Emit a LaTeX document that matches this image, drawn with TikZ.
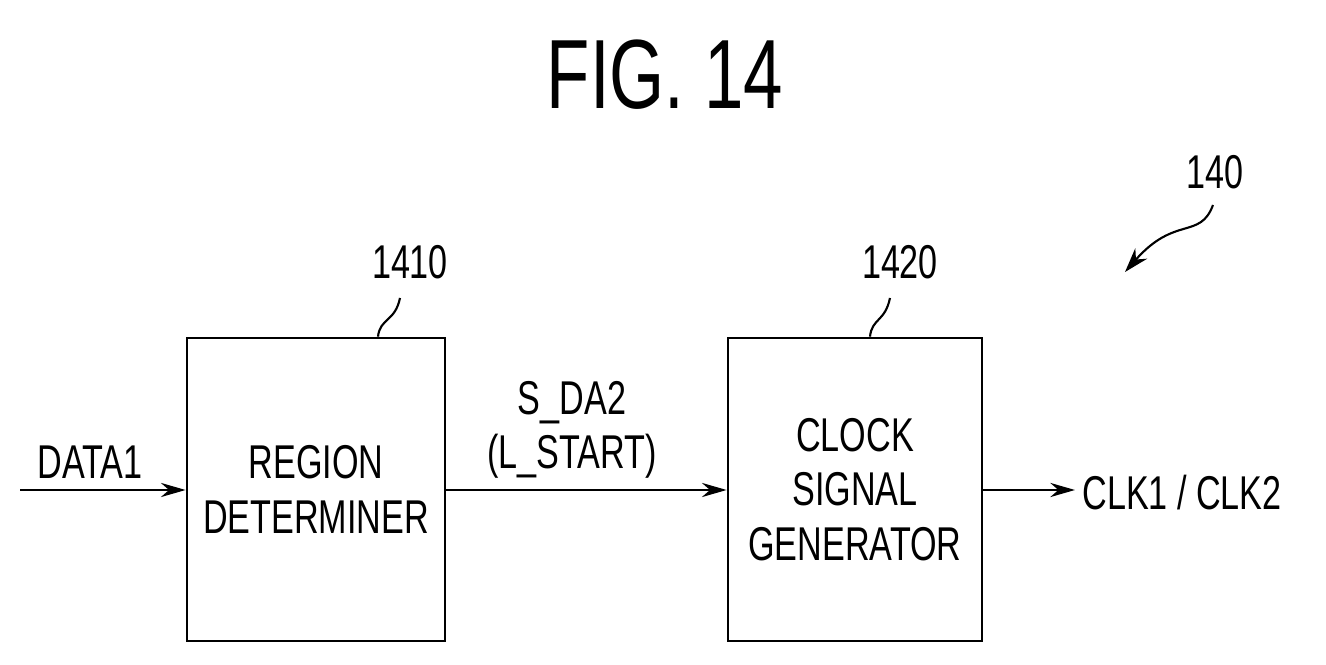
\documentclass[tikz,border=0pt]{standalone}
\usepackage{fontspec}
\setmainfont[FakeStretch=0.72]{Liberation Sans}
\usetikzlibrary{arrows.meta,positioning}
\begin{document}
\begin{tikzpicture}[
    x=0.02cm, y=-0.02cm,
    box/.style={rectangle, draw, line width=1.6pt, minimum height=6.06cm, font=\fontsize{27}{31}\selectfont, align=center, inner sep=0pt},
    lbl/.style={font=\fontsize{27}{31}\selectfont, inner sep=0pt},
    arrow/.style={-{Stealth[length=14pt,width=8pt]}, line width=1.6pt}
]
    \useasboundingbox (0,0) rectangle (1326,665);
    % title
    \node[font=\fontsize{56}{60}\selectfont] (title) at (665,75) {FIG. 14};

    % blocks
    \node[box, minimum width=5.16cm] (region) at (316,489.5) {REGION\\DETERMINER};
    \node[box, minimum width=5.08cm] (clock) at (855,489.5) {CLOCK\\SIGNAL\\GENERATOR};

    % reference numerals
    \node[lbl] (n1410) at (410,262) {1410};
    \node[lbl] (n1420) at (900,262) {1420};
    \node[lbl] (n140) at (1215,172) {140};
    \draw[line width=1.2pt] (region.north)++(62,0) coordinate (r1) .. controls (380,318) and (395,322) .. (400,298);
    \draw[line width=1.2pt] (clock.north)++(15,0) coordinate (c1) .. controls (872,318) and (885,322) .. (890,298);
    \coordinate (tip140) at (1125,272);
    \draw[-{Stealth[length=14pt,width=9pt]}, line width=1.2pt] (1213,205) .. controls (1200,240) and (1175,215) .. (tip140);

    % signals
    \coordinate (in) at (20,490);
    \coordinate (out) at (1075,490);
    \draw[arrow] (in) -- (region.west |- in);
    \node[lbl] (data1) at (90,462) {DATA1};
    \draw[arrow] (region.east |- in) -- (clock.west |- in);
    \node[lbl, align=center] (sda2) at (572,430) {S\_DA2\\(L\_START)};
    \draw[arrow] (clock.east |- in) -- (out);
    \node[lbl, anchor=west] (clk) at (1082,493) {CLK1 / CLK2};
\end{tikzpicture}
\end{document}
